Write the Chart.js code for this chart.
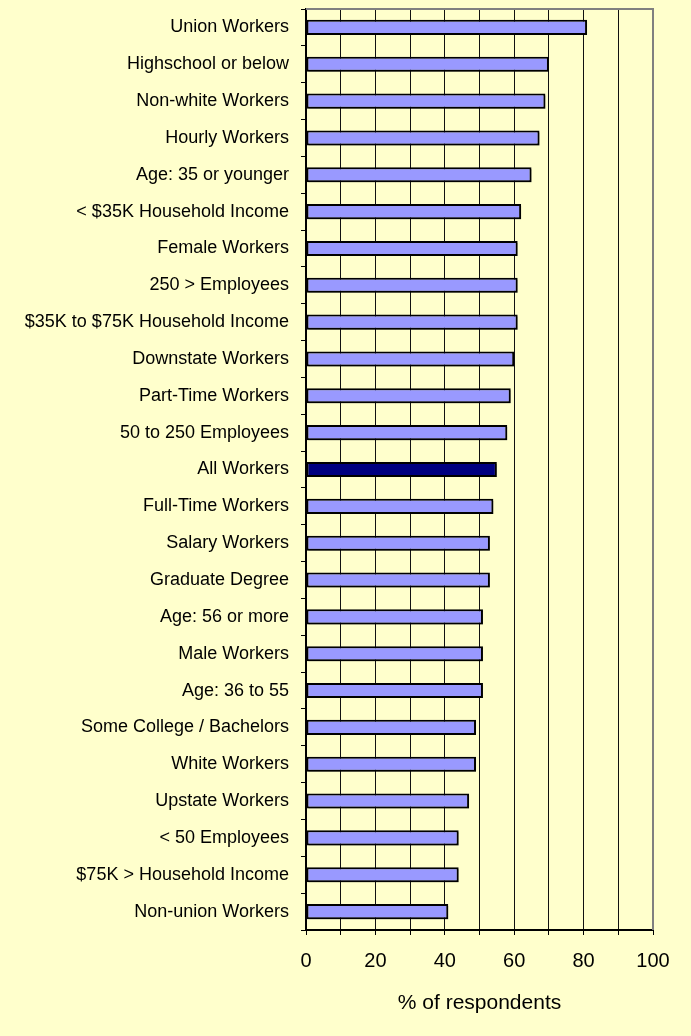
<!DOCTYPE html>
<html>
<head>
<meta charset="utf-8">
<title>% of respondents</title>
<script src="https://cdn.jsdelivr.net/npm/chart.js@4/dist/chart.umd.min.js"></script>
<style>
    html, body {
        margin: 0;
        padding: 0;
        background: #ffffcc;
    }
    .chart-box {
        position: relative;
        width: 691px;
        height: 1036px;
    }
</style>
</head>
<body>
<div class="chart-box">
    <canvas id="groupChart"></canvas>
</div>
<script>
// 数据
const groups = [
    'Union Workers', 'Highschool or below', 'Non-white Workers', 'Hourly Workers',
    'Age: 35 or younger', '< $35K Household Income', 'Female Workers', '250 > Employees',
    '$35K to $75K Household Income', 'Downstate Workers', 'Part-Time Workers',
    '50 to 250 Employees', 'All Workers', 'Full-Time Workers', 'Salary Workers',
    'Graduate Degree', 'Age: 56 or more', 'Male Workers', 'Age: 36 to 55',
    'Some College / Bachelors', 'White Workers', 'Upstate Workers', '< 50 Employees',
    '$75K > Household Income', 'Non-union Workers'
];
const percents = [
    81, 70, 69, 67.3, 65, 62, 61, 61, 61, 60, 59, 58, 55, 54, 53,
    53, 51, 51, 51, 49, 49, 47, 44, 44, 41
];
const highlightGroup = 'All Workers';
const xTicks = [0, 20, 40, 60, 80, 100];

const FONT = "'Liberation Sans', Arial, sans-serif";

document.addEventListener('DOMContentLoaded', function() {
    const ctx = document.getElementById('groupChart').getContext('2d');

    const barColors = groups.map(g => g === highlightGroup ? '#000080' : '#9999ff');

    // 绘图区灰色边框 + 条形阴影
    const framePlugin = {
        id: 'frame',
        beforeDatasetsDraw(chart) {
            const a = chart.chartArea;
            const c = chart.ctx;
            c.save();
            c.strokeStyle = '#808080';
            c.lineWidth = 2;
            c.beginPath();
            c.moveTo(a.left, a.top);
            c.lineTo(a.right, a.top);
            c.lineTo(a.right, a.bottom);
            c.stroke();
            c.restore();
        },
        beforeDatasetDraw(chart) {
            const c = chart.ctx;
            c.save();
            c.shadowColor = 'rgba(0, 0, 0, 0.35)';
            c.shadowOffsetX = 2;
            c.shadowOffsetY = 2;
            c.shadowBlur = 0;
        },
        afterDatasetDraw(chart) {
            chart.ctx.restore();
        }
    };

    new Chart(ctx, {
        type: 'bar',
        data: {
            labels: groups,
            datasets: [{
                data: percents,
                backgroundColor: barColors,
                borderColor: '#000000',
                borderWidth: 2,
                borderSkipped: false,
                categoryPercentage: 1,
                barPercentage: 0.41
            }]
        },
        options: {
            indexAxis: 'y',
            responsive: true,
            maintainAspectRatio: false,
            animation: false,
            layout: {
                padding: { top: 9, right: 38, bottom: 0, left: 0 }
            },
            plugins: {
                legend: { display: false },
                tooltip: { enabled: false }
            },
            scales: {
                x: {
                    min: 0,
                    max: 100,
                    afterFit: function(scale) { scale.height = 106; },
                    afterBuildTicks: function(scale) {
                        const all = [];
                        for (let v = 0; v <= 100; v += 10) all.push({ value: v });
                        scale.ticks = all;
                    },
                    ticks: {
                        autoSkip: false,
                        color: '#000',
                        padding: 14,
                        maxRotation: 0,
                        font: { family: FONT, size: 20 },
                        callback: function(v) { return xTicks.includes(v) ? String(v) : ''; }
                    },
                    grid: {
                        color: function(c) { return c.tick && c.tick.value === 100 ? '#808080' : '#111'; },
                        tickColor: '#000',
                        lineWidth: 1,
                        tickLength: 5
                    },
                    border: { color: '#000', width: 2 },
                    title: {
                        display: true,
                        text: '% of respondents',
                        color: '#000',
                        font: { family: FONT, size: 21 },
                        padding: { top: 0, bottom: 20 }
                    }
                },
                y: {
                    afterFit: function(scale) {
                        scale.width = 306;
                        scale.paddingTop = 0;
                        scale.paddingBottom = 0;
                    },
                    ticks: {
                        autoSkip: false,
                        color: '#000',
                        padding: 12,
                        font: { family: FONT, size: 18 }
                    },
                    grid: {
                        offset: true,
                        drawOnChartArea: false,
                        color: '#000',
                        tickLength: 5
                    },
                    border: { color: '#000', width: 2 }
                }
            }
        },
        plugins: [framePlugin]
    });
});
</script>
</body>
</html>
